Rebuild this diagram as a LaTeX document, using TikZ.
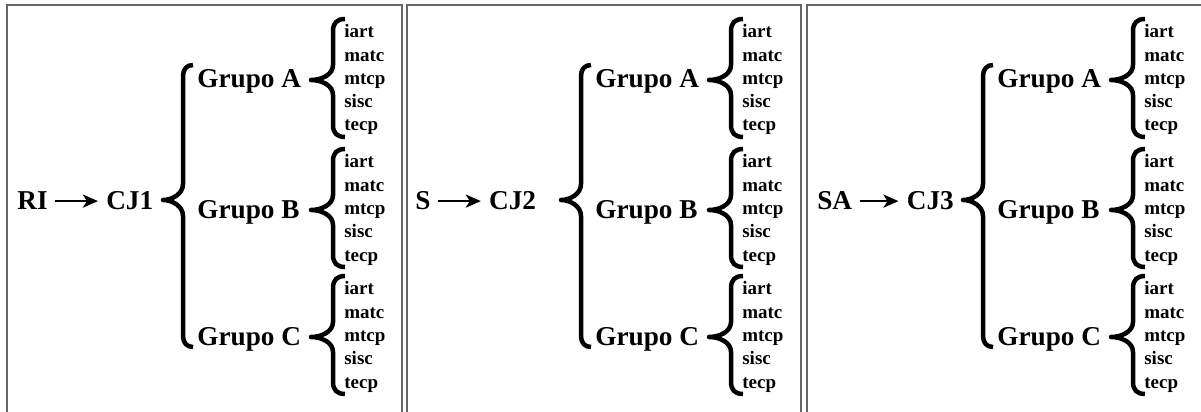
\documentclass[tikz,border=0pt]{standalone}
\usepackage{fontspec}
\setmainfont{Liberation Serif}
\usetikzlibrary{arrows.meta,positioning}
\tikzset{
  labelbig/.style={
    inner sep=0pt,
    font=\bfseries\fontsize{15.5}{18}\selectfont
  },
  labelsmall/.style={
    inner sep=0pt,
    anchor=base west,
    font=\bfseries\fontsize{10.8}{13}\selectfont
  },
  linkarrow/.style={
    -{Stealth[length=0.3cm,width=0.26cm,inset=0.08cm]},
    line width=0.055cm,
    shorten <=0.14cm,
    shorten >=0.16cm
  },
  bracestroke/.style={
    line width=0.09cm,
    line join=round
  },
  panelframe/.style={
    draw=black!60,
    line width=0.04cm
  },
  bigbrace/.pic={
    \draw[bracestroke] (30,-135) .. controls (24,-135) and (20,-131) .. (20,-124)
      -- (20,-16) .. controls (20,-6) and (9,0) .. (0,0)
      .. controls (9,0) and (20,6) .. (20,16)
      -- (20,136) .. controls (20,143) and (24,147) .. (30,147);
  },
  smallbrace/.pic={
    \draw[bracestroke] (34,-61) .. controls (26,-61) and (22,-57) .. (22,-49)
      -- (22,-15) .. controls (22,-5) and (10,0) .. (0,0)
      .. controls (10,0) and (22,5) .. (22,15)
      -- (22,45) .. controls (22,53) and (26,57) .. (34,57);
  }
}
\begin{document}
\begin{tikzpicture}[x=0.02cm, y=-0.02cm]
\useasboundingbox (0,0) rectangle (1201,412);
\clip (0,0) rectangle (1201,412);

% panel frames, open at the bottom
\draw[panelframe] (7,420) |- (402,5) -- (402,420);
\draw[panelframe] (407,420) |- (801,5) -- (801,420);
\draw[panelframe] (807,420) |- (1210,5);

\foreach \dx/\src/\cj/\gap in {0/RI/CJ1/1.16cm, 398/S/CJ2/1.16cm, 800/SA/CJ3/1.08cm} {
  \begin{scope}[shift={(\dx,0)}]
    \node[labelbig, anchor=base west] (src) at (17,210) {\src};
    \node[labelbig, base right=\gap of src] (cj) {\cj};
    \draw[linkarrow] (src.east) -- (src.east -| cj.west);
    \pic at (163,200) {bigbrace};
    \foreach \grp/\ty in {A/80, B/210, C/337} {
      \node[labelbig, anchor=base west] (grp\grp) at (197,\ty+8) {Grupo \grp};
      \pic at (311,\ty) {smallbrace};
      \foreach \course [count=\k from 0] in {iart,matc,mtcp,sisc,tecp}
        \node[labelsmall] (\grp\course) at (344,\ty-42+23.25*\k) {\course};
    }
  \end{scope}
}
\end{tikzpicture}
\end{document}
